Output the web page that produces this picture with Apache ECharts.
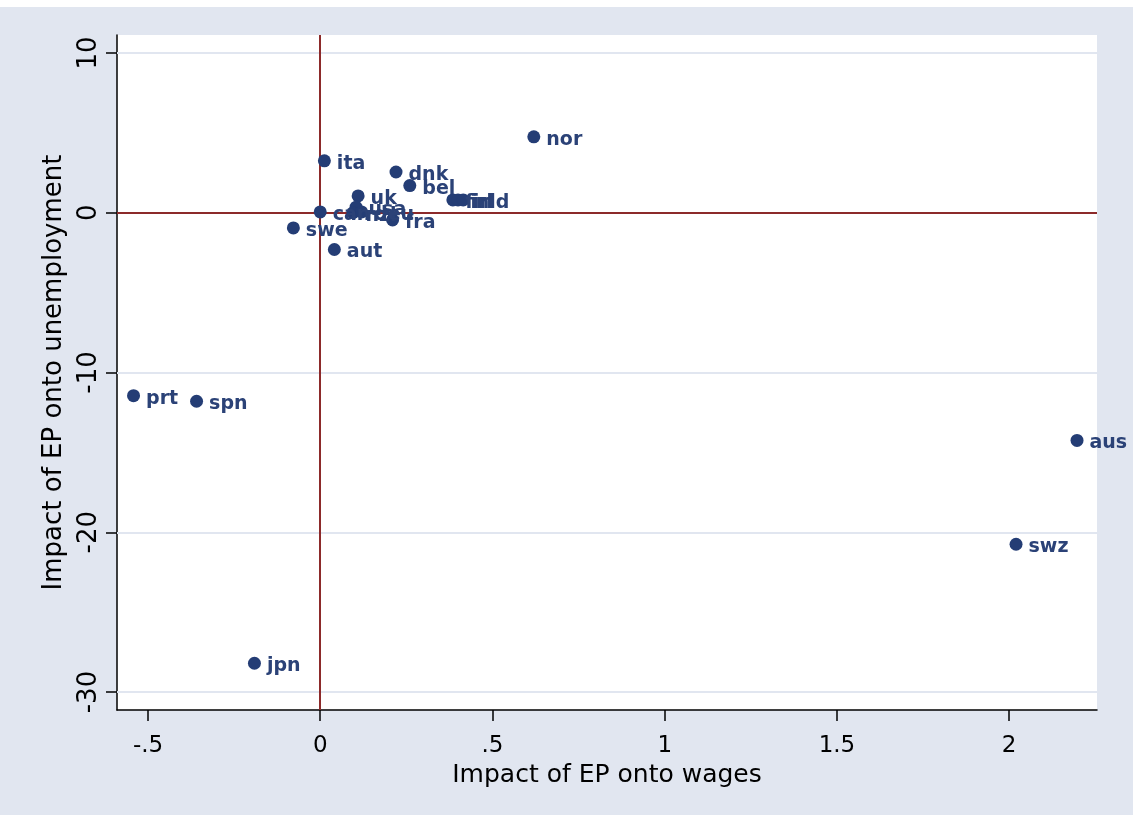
<!DOCTYPE html>
<html>
<head>
<meta charset="utf-8">
<script src="https://cdn.jsdelivr.net/npm/echarts@6/dist/echarts.min.js"></script>
<style>
  html, body { margin: 0; padding: 0; background: #fff; }
  #main { position: absolute; left: 0; top: 7px; width: 1133px; height: 808px; background: #e1e6f0; }
</style>
</head>
<body>
<div id="main"></div>
<script>
// countries and their estimated effects
var countries = ['nor', 'ita', 'dnk', 'bel', 'fin', 'irl', 'nld', 'uk', 'can', 'usa', 'nzl', 'deu', 'fra', 'swe', 'aut', 'prt', 'spn', 'jpn', 'aus', 'swz'];
var wageEffect = [0.62, 0.012, 0.22, 0.26, 0.385, 0.40, 0.415, 0.11, 0.0, 0.104, 0.095, 0.12, 0.21, -0.078, 0.041, -0.542, -0.359, -0.191, 2.197, 2.02];
var unempEffect = [4.75, 3.25, 2.55, 1.7, 0.8, 0.8, 0.8, 1.05, 0.05, 0.35, 0.0, 0.05, -0.45, -0.95, -2.3, -11.45, -11.8, -28.2, -14.25, -20.75];
var xTicks = [-0.5, 0, 0.5, 1, 1.5, 2];
var yTicks = [10, 0, -10, -20, -30];

var axisFont = 'DejaVu Sans, Liberation Sans, Arial';

var fmt = function (v) {
  var s = String(v);
  if (s.indexOf('0.') === 0) s = s.slice(1);
  if (s.indexOf('-0.') === 0) s = '-' + s.slice(2);
  return s;
};

var points = [];
for (var i = 0; i < countries.length; i++) {
  points.push({ name: countries[i], value: [wageEffect[i], unempEffect[i]] });
}

var gridLines = yTicks.map(function (t) { return { yAxis: t }; });

var chart = echarts.init(document.getElementById('main'));
chart.setOption({
  animation: false,
  grid: { left: 117, right: 36, top: 28, bottom: 105, backgroundColor: '#fff', show: true, borderWidth: 0 },
  xAxis: {
    type: 'value',
    min: -0.59,
    max: 2.255,
    name: 'Impact of EP onto wages',
    nameLocation: 'middle',
    nameGap: 52,
    nameTextStyle: { fontFamily: axisFont, fontSize: 25, color: '#000' },
    axisLine: { show: true, onZero: false, lineStyle: { color: '#000', width: 1.5 } },
    axisTick: { show: true, length: 11, customValues: xTicks, lineStyle: { color: '#000', width: 1.5 } },
    axisLabel: { customValues: xTicks, formatter: fmt, margin: 25, fontFamily: axisFont, fontSize: 23, color: '#000' },
    splitLine: { show: false }
  },
  yAxis: {
    type: 'value',
    min: -31.125,
    max: 11.125,
    name: 'Impact of EP onto unemployment',
    nameLocation: 'middle',
    nameGap: 50,
    nameTextStyle: { fontFamily: axisFont, fontSize: 26, color: '#000' },
    axisLine: { show: true, onZero: false, lineStyle: { color: '#000', width: 1.5 } },
    axisTick: { show: true, length: 11, customValues: yTicks, lineStyle: { color: '#000', width: 1.5 } },
    axisLabel: { customValues: yTicks, rotate: 90, margin: 15, fontFamily: axisFont, fontSize: 26, color: '#000' },
    splitLine: { show: false }
  },
  series: [
    {
      type: 'scatter',
      symbolSize: 13,
      itemStyle: { color: '#243d75', opacity: 1 },
      label: {
        show: true,
        position: 'right',
        distance: 6,
        offset: [0, 3],
        formatter: '{b}',
        fontFamily: 'DejaVu Sans, Liberation Sans, Arial',
        fontWeight: 'bold',
        fontSize: 19,
        color: '#2b4277'
      },
      data: points,
      z: 5,
      markLine: {
        silent: true,
        symbol: 'none',
        label: { show: false },
        lineStyle: { color: '#e1e6f0', width: 2, type: 'solid' },
        data: gridLines
      }
    },
    {
      type: 'scatter',
      data: [],
      z: 3,
      markLine: {
        silent: true,
        symbol: 'none',
        label: { show: false },
        lineStyle: { color: '#8c2a2a', width: 2, type: 'solid' },
        data: [{ xAxis: 0 }, { yAxis: 0 }]
      }
    }
  ]
});
</script>
</body>
</html>
